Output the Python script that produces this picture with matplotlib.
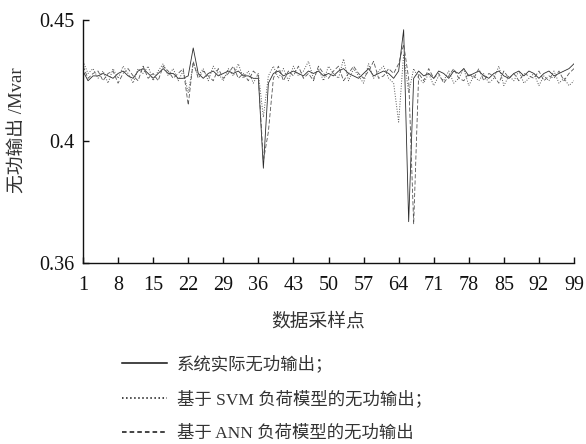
import numpy as np
import matplotlib
matplotlib.use("Agg")
import matplotlib.pyplot as plt
from matplotlib.lines import Line2D

INK = "#2b2b2b"
GREY = "#555555"
FAM = ["Liberation Serif", "Noto Sans CJK SC"]
plt.rcParams["font.family"] = FAM
plt.rcParams["font.size"] = 12.5

# 数据采样点 1..99
samples = np.arange(1, 100)

# 系统实际无功输出 (Mvar)
actual = [
    .429, .425, .427, .427, .428, .427, .426, .428, .429, .427,
    .426, .429, .430, .428, .426, .428, .430, .428, .428, .426,
    .426, .427, .4385, .428, .426, .428, .429, .427, .428, .429,
    .428, .429, .427, .427, .426, .426, .389, .424, .428, .429,
    .427, .428, .429, .428, .427, .429, .428, .429, .427, .428,
    .427, .429, .430, .428, .427, .426, .428, .430, .427, .428,
    .429, .428, .426, .429, .446, .367, .426, .429, .427, .428,
    .426, .429, .428, .426, .429, .428, .430, .427, .428, .429,
    .427, .426, .428, .429, .427, .426, .428, .429, .427, .429,
    .428, .426, .428, .429, .427, .428, .429, .430, .432,
]
# 基于 SVM 负荷模型的无功输出
svm = [
    .433, .428, .430, .426, .429, .424, .430, .426, .431, .428,
    .424, .430, .428, .431, .425, .429, .432, .427, .430, .425,
    .429, .420, .432, .427, .430, .425, .431, .428, .425, .430,
    .427, .432, .426, .429, .424, .428, .410, .427, .431, .426,
    .430, .425, .431, .427, .429, .433, .426, .430, .425, .431,
    .428, .426, .434, .425, .430, .427, .424, .432, .426, .429,
    .431, .426, .424, .408, .436, .420, .430, .426, .424, .428,
    .423, .427, .425, .429, .424, .426, .430, .423, .427, .425,
    .428, .424, .426, .431, .423, .427, .425, .429, .424, .426,
    .428, .423, .427, .425, .429, .424, .426, .423, .425,
]
# 基于 ANN 负荷模型的无功输出
ann = [
    .431, .426, .428, .429, .425, .428, .429, .424, .428, .430,
    .427, .425, .431, .426, .428, .425, .431, .429, .426, .428,
    .430, .415, .433, .426, .429, .427, .425, .430, .426, .428,
    .431, .426, .428, .425, .429, .427, .392, .404, .426, .431,
    .425, .429, .427, .431, .426, .428, .425, .431, .428, .426,
    .429, .431, .425, .428, .431, .428, .426, .429, .433, .426,
    .427, .430, .428, .432, .440, .426, .366, .428, .425, .430,
    .426, .428, .424, .427, .430, .426, .425, .428, .426, .430,
    .425, .428, .427, .424, .429, .426, .428, .425, .428, .427,
    .426, .429, .425, .427, .426, .429, .425, .428, .430,
]

xticks = list(range(1, 100, 7))
yticks = [0.35, 0.40, 0.45]
ytick_labels = ["0.36", "0.4", "0.45"]

fig = plt.figure(figsize=(5.86, 4.44), dpi=100)
ax = fig.add_axes([83 / 586, 1 - 263 / 444, (574 - 83) / 586, (263 - 20) / 444])

ax.plot(samples, actual, "-", color=INK, linewidth=0.6)
ax.plot(samples, svm, ":", color=GREY, linewidth=0.7)
ax.plot(samples, ann, "--", color=GREY, linewidth=0.6, dashes=(5, 2.5))

ax.set_xlim(1, 99)
ax.set_ylim(0.35, 0.45)
ax.set_xticks(xticks)
ax.set_yticks(yticks)
ax.set_yticklabels(ytick_labels)
for s in ["top", "right"]:
    ax.spines[s].set_visible(False)
for s in ["left", "bottom"]:
    ax.spines[s].set_linewidth(1.0)
    ax.spines[s].set_color("#111111")
ax.tick_params(direction="in", length=4.5, width=1.0, colors="#111111",
               labelsize=14.5)
ax.tick_params(axis="x", pad=9)
ax.tick_params(axis="y", pad=6)

fig.text(18 / 586, 1 - 130 / 444, "无功输出 /Mvar", rotation=90,
         ha="center", va="center", fontsize=13.5, color="#333333")
fig.text(318 / 586, 1 - 322 / 444, "数据采样点", ha="center", va="center",
         fontsize=13.5, color="#333333")

handles = [Line2D([], [], color="#111111", linestyle="-", linewidth=1.1),
           Line2D([], [], color="#111111", linestyle=":", linewidth=1.1),
           Line2D([], [], color="#111111", linestyle="--", linewidth=1.1,
                  dashes=(3, 2))]
labels = ["系统实际无功输出；", "基于 SVM 负荷模型的无功输出；",
          "基于 ANN 负荷模型的无功输出"]
leg = fig.legend(handles, labels, loc="upper left",
                 bbox_to_anchor=(122 / 586, 1 - 355 / 444), frameon=False,
                 borderpad=0, borderaxespad=0, handlelength=2.6,
                 handletextpad=0.57, labelspacing=1.0, fontsize=12.5)
for t in leg.get_texts():
    t.set_color("#333333")

fig.savefig("out.png", dpi=100)
